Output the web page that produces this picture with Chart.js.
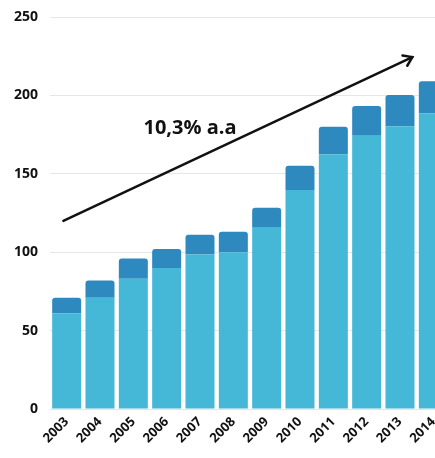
<!DOCTYPE html>
<html>
<head>
<meta charset="utf-8">
<script src="https://cdn.jsdelivr.net/npm/chart.js@4"></script>
<style>
  html, body { margin: 0; padding: 0; background: #fff; overflow: hidden; }
  #wrap { width: 435px; height: 458px; overflow: hidden; }
</style>
</head>
<body>
<div id="wrap"><canvas id="grafico" width="452" height="458"></canvas></div>
<script>
const anos = ["2003", "2004", "2005", "2006", "2007", "2008", "2009", "2010", "2011", "2012", "2013", "2014"];
const base = [61, 71, 83, 90, 98.5, 100, 116, 139.7, 162.4, 174.3, 180.4, 188.5];
const topo = [10, 11, 13, 12, 12.7, 13, 12.4, 15.5, 17.6, 18.9, 19.8, 20.6];
const ticksY = [0, 50, 100, 150, 200, 250];

// seta de tendência, em coordenadas de dados (índice da categoria, valor)
const seta = { de: [-0.1, 120], ate: [10.37, 224.4] };
const rotulo = { texto: "10,3% a.a", pos: [3.7, 179] };

const anotacao = {
  id: "anotacao",
  afterDatasetsDraw(chart) {
    const { ctx, scales } = chart;
    const x = scales.x, y = scales.y;
    const px = (i) => x.getPixelForValue(0) + i * (x.getPixelForValue(1) - x.getPixelForValue(0));
    const x1 = px(seta.de[0]), y1 = y.getPixelForValue(seta.de[1]);
    const x2 = px(seta.ate[0]), y2 = y.getPixelForValue(seta.ate[1]);
    ctx.save();
    ctx.strokeStyle = "#111";
    ctx.lineWidth = 2.5;
    ctx.lineCap = "round";
    ctx.beginPath();
    ctx.moveTo(x1, y1);
    ctx.lineTo(x2, y2);
    ctx.stroke();
    const ang = Math.atan2(y2 - y1, x2 - x1);
    const L = 10;
    ctx.beginPath();
    ctx.moveTo(x2 - L * Math.cos(ang - 0.6), y2 - L * Math.sin(ang - 0.6));
    ctx.lineTo(x2, y2);
    ctx.lineTo(x2 - L * Math.cos(ang + 0.6), y2 - L * Math.sin(ang + 0.6));
    ctx.stroke();
    ctx.fillStyle = "#111";
    ctx.font = "bold 20px 'Open Sans'";
    ctx.textAlign = "center";
    ctx.textBaseline = "middle";
    ctx.fillText(rotulo.texto, px(rotulo.pos[0]), y.getPixelForValue(rotulo.pos[1]));
    ctx.restore();
  }
};

new Chart(document.getElementById("grafico"), {
  type: "bar",
  data: {
    labels: anos,
    datasets: [
      {
        data: base,
        backgroundColor: "#45b7d7",
        borderWidth: 0,
      },
      {
        data: topo,
        backgroundColor: "#2d89be",
        borderWidth: 0,
        borderRadius: { topLeft: 3, topRight: 3 },
        borderSkipped: "start",
      },
    ],
  },
  options: {
    responsive: false,
    animation: false,
    maintainAspectRatio: false,
    categoryPercentage: 1,
    barPercentage: 0.87,
    layout: { padding: { top: 0, right: 2, left: 0, bottom: 0 } },
    plugins: { legend: { display: false }, tooltip: { enabled: false } },
    scales: {
      x: {
        stacked: true,
        grid: { display: false, drawTicks: false },
        border: { display: false },
        ticks: {
          color: "#111",
          font: { family: "'Open Sans'", weight: "bold", size: 13 },
          maxRotation: 45,
          minRotation: 45,
          padding: 5,
        },
        afterFit: (s) => { s.height = 49; },
      },
      y: {
        stacked: true,
        min: 0,
        max: 250,
        afterBuildTicks: (s) => { s.ticks = ticksY.map((v) => ({ value: v })); },
        grid: { color: "#e6e6e6", drawTicks: false },
        border: { display: false },
        ticks: {
          color: "#111",
          font: { family: "'Open Sans'", weight: "bold", size: 14 },
          padding: 12,
        },
        afterFit: (s) => {
          s.width = 50;
          s.paddingTop = 17;
          s.paddingBottom = 0;
        },
      },
    },
  },
  plugins: [anotacao],
});
</script>
</body>
</html>
